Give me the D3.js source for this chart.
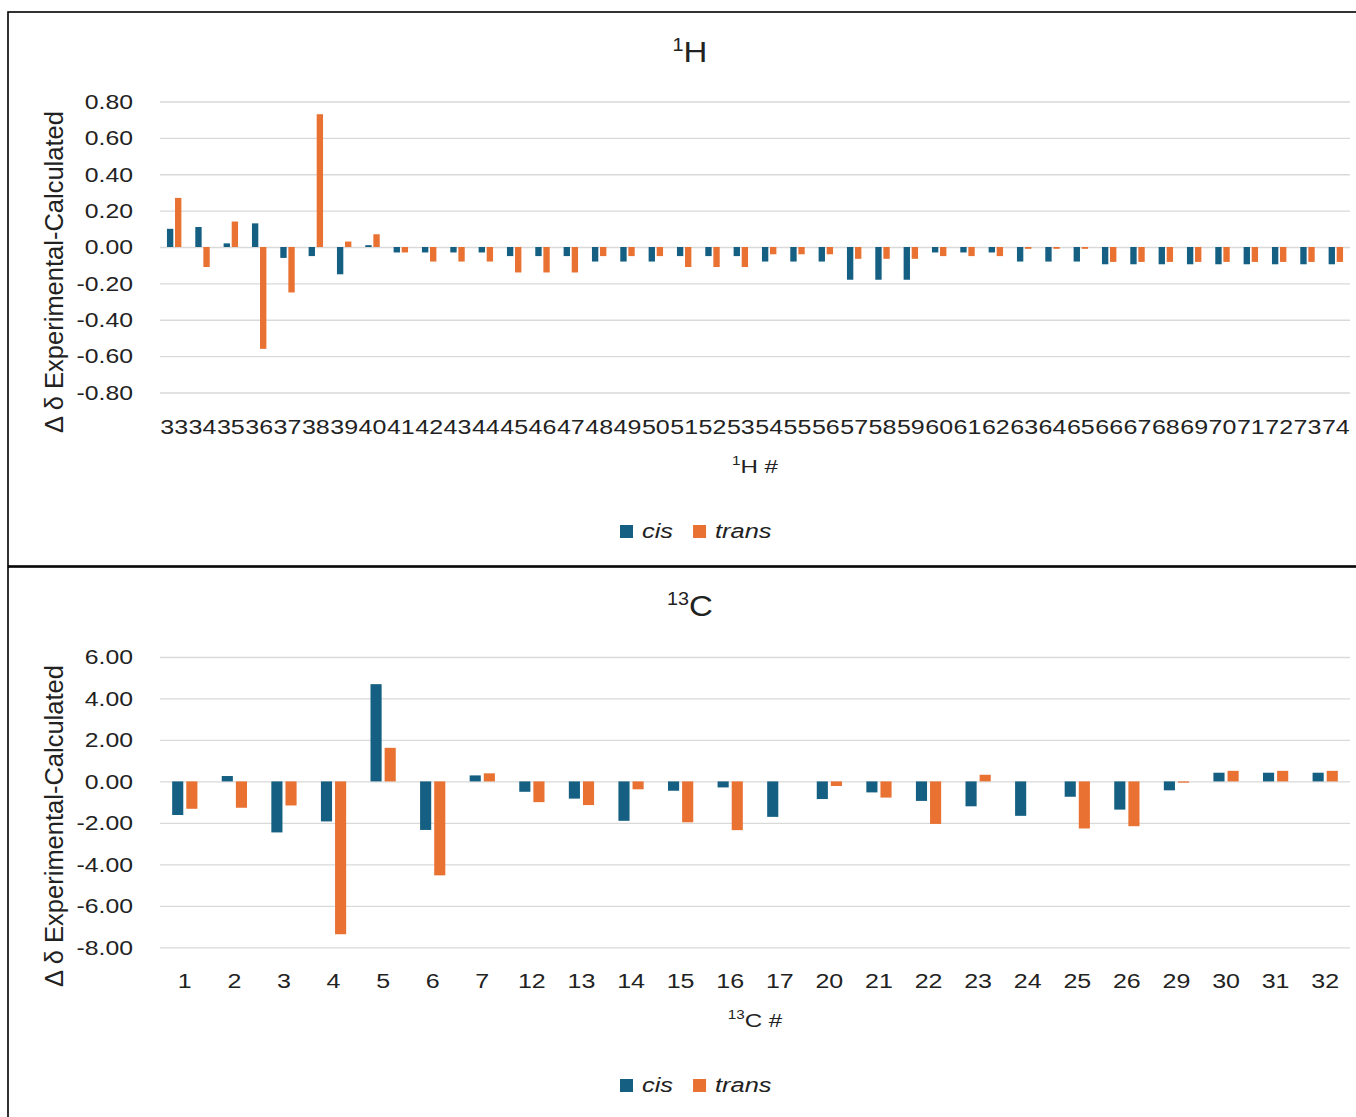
<!DOCTYPE html>
<html lang="en">
<head>
<meta charset="UTF-8">
<title>Δδ Experimental-Calculated, 1H and 13C</title>
<script src="https://cdn.jsdelivr.net/npm/d3@7"></script>
<style>
  body { margin: 0; background: #fff; }
  svg { display: block; font-family: "Liberation Sans", Arial, sans-serif; }
</style>
</head>
<body>
<svg id="chart" width="1356" height="1117"></svg>
<script>
// 1H shifts
const hLabels = ["33", "34", "35", "36", "37", "38", "39", "40", "41", "42", "43", "44", "45", "46",
  "47", "48", "49", "50", "51", "52", "53", "54", "55", "56", "57", "58", "59", "60", "61", "62",
  "63", "64", "65", "66", "67", "68", "69", "70", "71", "72", "73", "74"];
const hCis = [0.10, 0.11, 0.02, 0.13, -0.06, -0.05, -0.15, 0.01, -0.03, -0.03, -0.03, -0.03, -0.05, -0.05,
  -0.05, -0.08, -0.08, -0.08, -0.05, -0.05, -0.05, -0.08, -0.08, -0.08, -0.18, -0.18, -0.18, -0.03, -0.03, -0.03,
  -0.08, -0.08, -0.08, -0.095, -0.095, -0.095, -0.095, -0.095, -0.095, -0.095, -0.095, -0.095];
const hTrans = [0.27, -0.11, 0.14, -0.56, -0.25, 0.73, 0.03, 0.07, -0.03, -0.08, -0.08, -0.08, -0.14, -0.14,
  -0.14, -0.05, -0.05, -0.05, -0.11, -0.11, -0.11, -0.04, -0.04, -0.04, -0.065, -0.065, -0.065, -0.05, -0.05, -0.05,
  -0.01, -0.01, -0.01, -0.082, -0.082, -0.082, -0.082, -0.082, -0.082, -0.082, -0.082, -0.082];
const hTicks = [0.8, 0.6, 0.4, 0.2, 0, -0.2, -0.4, -0.6, -0.8];

// 13C shifts
const cLabels = ["1", "2", "3", "4", "5", "6", "7", "12", "13", "14", "15", "16", "17", "20", "21", "22",
  "23", "24", "25", "26", "29", "30", "31", "32"];
const cCis = [-1.62, 0.26, -2.46, -1.93, 4.69, -2.34, 0.29, -0.50, -0.83, -1.90, -0.45, -0.29, -1.71, -0.85,
  -0.53, -0.94, -1.20, -1.66, -0.74, -1.36, -0.43, 0.42, 0.42, 0.42];
const cTrans = [-1.32, -1.27, -1.16, -7.37, 1.62, -4.53, 0.39, -1.00, -1.14, -0.38, -1.97, -2.35, 0, -0.22,
  -0.78, -2.05, 0.32, 0, -2.27, -2.16, -0.06, 0.51, 0.51, 0.51];
const cTicks = [6, 4, 2, 0, -2, -4, -6, -8];

const seriesNames = ["cis", "trans"];
const colors = ["#156082", "#E97132"];

const svg = d3.select("#chart");
const plotLeft = 160, plotRight = 1350;
const stretch = 1.27; // labels in the picture are wider than tall
const textColor = "#222";

// the two framed panels
svg.append("rect").attr("x", 8).attr("y", 12).attr("width", 1360).attr("height", 554)
  .attr("fill", "none").attr("stroke", "#000").attr("stroke-width", 1.6);
svg.append("rect").attr("x", 8).attr("y", 567).attr("width", 1360).attr("height", 600)
  .attr("fill", "none").attr("stroke", "#000").attr("stroke-width", 1.6);

const panels = [
  { sup: "1", title: "H", labels: hLabels, cis: hCis, trans: hTrans, ticks: hTicks,
    yTop: 101.5, yBottom: 392.5, titleY: 62, xTickY: 434, xTitleY: 473, legendY: 538, yTitleY: 272 },
  { sup: "13", title: "C", labels: cLabels, cis: cCis, trans: cTrans, ticks: cTicks,
    yTop: 657, yBottom: 947.3, titleY: 616, xTickY: 988, xTitleY: 1027, legendY: 1092, yTitleY: 826 }
];

panels.forEach(drawPanel);

function drawPanel(p) {
  const g = svg.append("g");

  const x = d3.scaleBand().domain(p.labels).range([plotLeft, plotRight]);
  const y = d3.scaleLinear()
    .domain([p.ticks[p.ticks.length - 1], p.ticks[0]])
    .range([p.yBottom, p.yTop]);

  // Excel-like clustering: gap 219%, overlap -27%
  const barW = x.bandwidth() / 4.46;
  const offset = [-1.135 * barW, 0.135 * barW];

  // gridlines + value labels
  const yAxis = g.append("g")
    .attr("transform", `translate(${plotLeft},0)`)
    .call(d3.axisLeft(y)
      .tickValues(p.ticks)
      .tickFormat(d => d.toFixed(2))
      .tickSize(-(plotRight - plotLeft))
      .tickPadding(0));
  yAxis.attr("font-family", null).attr("font-size", null);
  yAxis.select(".domain").remove();
  yAxis.selectAll("line").attr("stroke", "#d9d9d9").attr("stroke-width", 1.3);
  yAxis.selectAll("text")
    .attr("x", -27 / stretch)
    .attr("dy", "0.35em")
    .attr("transform", `scale(${stretch},1)`)
    .attr("font-size", 19.5)
    .attr("fill", textColor);

  // bars
  seriesNames.forEach((name, s) => {
    const vals = s === 0 ? p.cis : p.trans;
    g.append("g")
      .selectAll("rect")
      .data(p.labels.map((l, i) => ({ label: l, v: vals[i] })))
      .join("rect")
      .attr("x", d => x(d.label) + x.bandwidth() / 2 + offset[s])
      .attr("y", d => y(Math.max(0, d.v)))
      .attr("width", barW)
      .attr("height", d => Math.abs(y(d.v) - y(0)))
      .attr("fill", colors[s]);
  });

  // category labels
  const xAxis = g.append("g")
    .attr("transform", `translate(0,${p.xTickY})`)
    .call(d3.axisBottom(x).tickSize(0).tickPadding(0));
  xAxis.attr("font-family", null).attr("font-size", null);
  xAxis.select(".domain").remove();
  xAxis.selectAll("text")
    .attr("y", 0)
    .attr("dy", 0)
    .attr("font-size", 20.5)
    .attr("fill", textColor)
    .attr("transform", "scale(1.22,1)");

  // chart title
  const t = g.append("text")
    .attr("transform", `translate(690,${p.titleY}) scale(1.1,1)`)
    .attr("text-anchor", "middle")
    .attr("font-size", 30)
    .attr("fill", textColor);
  t.append("tspan").attr("font-size", 18).attr("dy", -11).text(p.sup);
  t.append("tspan").attr("dy", 11).text(p.title);

  // x axis title
  const xt = g.append("text")
    .attr("transform", `translate(${(plotLeft + plotRight) / 2},${p.xTitleY}) scale(${stretch},1)`)
    .attr("text-anchor", "middle")
    .attr("font-size", 19)
    .attr("fill", textColor);
  xt.append("tspan").attr("font-size", 12).attr("dy", -8).text(p.sup);
  xt.append("tspan").attr("dy", 8).text(`${p.title} #`);

  // y axis title
  g.append("text")
    .attr("transform", `translate(63,${p.yTitleY}) rotate(-90)`)
    .attr("text-anchor", "middle")
    .attr("font-size", 25.5)
    .attr("fill", textColor)
    .text("Δ δ Experimental-Calculated");

  // legend
  let lx = 620;
  seriesNames.forEach((name, s) => {
    g.append("rect")
      .attr("x", lx).attr("y", p.legendY - 13)
      .attr("width", 13).attr("height", 13)
      .attr("fill", colors[s]);
    const txt = g.append("text")
      .attr("transform", `translate(${lx + 22},${p.legendY}) scale(${stretch},1)`)
      .attr("font-size", 20)
      .attr("font-style", "italic")
      .attr("fill", textColor)
      .text(name);
    lx += 22 + txt.node().getComputedTextLength() * stretch + 20;
  });
}
</script>
</body>
</html>
